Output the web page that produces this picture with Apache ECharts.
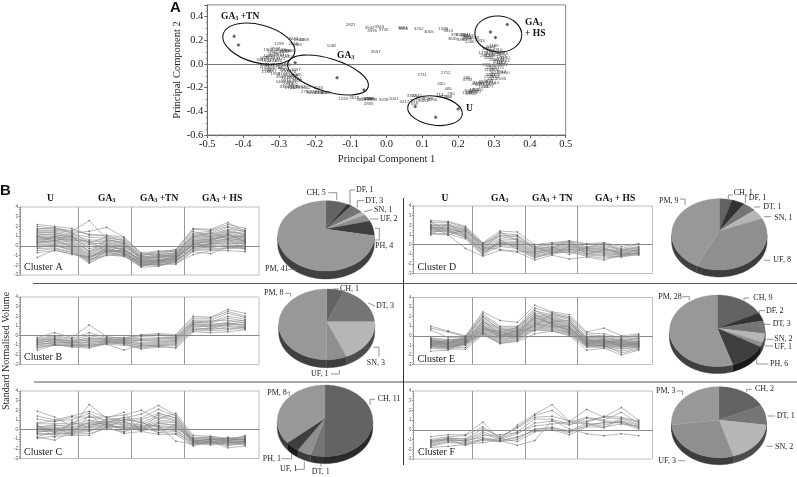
<!DOCTYPE html>
<html><head><meta charset="utf-8">
<script src="https://cdn.jsdelivr.net/npm/echarts@6/dist/echarts.min.js"></script>
<style>html,body{margin:0;padding:0;background:#fff}#c{width:797px;height:477px}</style></head>
<body><div id="c"></div>
<script>
// ---------- DATA ----------
// PCA loadings: [PC1, PC2, gene id]
const genes = [
[-.1,.33,2821],[-.047,.31,3542],[-.02,.315,3545],[-.04,.285,3376],[-.008,.29,3745],[.045,.31,3653],[.047,.295,3955],[.09,.3,3252],[.118,.275,3005],[.158,.295,1598],[.172,.285,3814],
[.19,.25,373],[.205,.245,1038],[.222,.25,2241],[.218,.235,1305],[.23,.24,2107],[.226,.225,3360],[.245,.225,1148],[.185,.21,3635],[.21,.205,3350],[.232,.185,1266],[.26,.2,3333],[.225,.21,2580],
[-.153,.15,1082],[-.03,.1,3557],[.1,-.09,2711],[.165,-.07,2712],[.225,-.115,595],[.226,-.13,3783],[.152,-.17,330],[.172,-.21,465],[.148,-.26,714],[.18,-.255,290],[.17,-.275,2148],[.16,-.28,3126],
[.07,-.27,3312],[.085,-.27,3845],[.095,-.285,1200],[.08,-.31,3319],[.105,-.31,3661],[.128,-.3,3250],[.115,-.295,2289],[.05,-.32,3217],[.02,-.29,1001],[-.008,-.305,3318],[-.12,-.295,1255],[-.09,-.285,3618],
[-.07,-.3,3825],[-.058,-.295,1346],[-.05,-.295,3299],[-.045,-.29,2286],[-.04,-.3,2859],[-.05,-.335,2835],[.078,-.34,559],
[-.26,.21,3043],[-.245,.205,2644],[-.23,.205,3468],[-.26,.17,2645],[-.25,.165,3443],[-.3,.17,1299],[-.33,.12,1302],[-.31,.13,3507],[-.295,.12,2558],[-.28,.115,1866],[-.27,.115,3306],[-.32,.105,1360],[-.3,.105,2241],[-.285,.1,3122],
[-.33,.07,1487],[-.315,.075,3019],[-.3,.08,2910],[-.285,.07,3419],[-.27,.06,1410],[-.34,.05,1655],[-.325,.05,3220],[-.31,.055,2231],[-.295,.045,1172],[-.35,.035,3381],[-.335,.03,1904],[-.32,.03,2274],[-.305,.03,1640],
[-.34,-.005,1023],[-.325,-.01,1118],[-.31,-.005,2255],[-.295,-.005,3041],[-.28,-.005,1490],[-.34,-.02,2077],[-.325,-.03,2460],[-.305,-.03,1732],[-.29,-.03,3811],[-.335,-.045,1523],[-.32,-.06,2987],[-.335,-.065,2136],[-.285,-.05,3202],
[-.253,-.05,3057],[-.28,-.06,2513],[-.265,-.065,1876],[-.25,-.09,2065],[-.31,-.08,1950],[-.29,-.085,3174],[-.275,-.09,1621],[-.26,-.1,2428],[-.295,-.11,3508],[-.28,-.115,1217],[-.265,-.12,2309],[-.25,-.125,1144],
[-.295,-.15,5418],[-.28,-.145,2712],[-.265,-.15,3301],[-.25,-.145,1098],[-.275,-.165,2844],[-.26,-.175,1462],[-.285,-.195,3390],[-.27,-.2,1731],[-.255,-.205,2023],[-.24,-.195,2662],[-.225,-.2,3352],[-.26,-.19,2105],
[-.225,-.235,2790],[-.21,-.24,3015],[-.2,-.235,1183],[-.19,-.245,2266],[-.18,-.24,1720],[-.17,-.24,3088],[-.19,-.2,1145],
[.28,.13,3984],[.29,.145,2044],[.3,.15,1186],[.29,.115,3325],[.31,.12,2310],[.27,.095,1473],[.285,.09,1811],[.3,.095,2675],[.315,.095,3016],[.325,.09,1544],
[.275,.07,2982],[.29,.07,1306],[.305,.075,2219],[.32,.065,1267],[.33,.05,3190],[.285,.05,1655],[.3,.04,2407],[.315,.04,3333],[.33,.03,1702],[.31,.02,2095],[.32,.01,1148],
[.31,-.01,2288],[.325,-.01,1937],[.295,-.015,471],[.28,-.01,3365],[.29,-.03,2250],[.3,-.045,1406],[.315,-.035,3771],[.285,-.05,1129],[.3,-.07,2612],[.32,-.065,3512],[.33,-.075,1850],
[.29,-.09,3052],[.305,-.09,2118],[.285,-.105,1777],[.3,-.11,2930],[.32,-.125,2535],[.295,-.125,1342],
[.255,-.16,3190],[.27,-.15,2208],[.285,-.145,1689],[.3,-.155,3144],[.26,-.175,1271],[.275,-.17,2854],[.29,-.17,3420],[.27,-.19,1058],[.285,-.19,2377],[.25,-.17,4112],
[.23,-.225,3086],[.245,-.215,1953],[.255,-.22,2620],[.225,-.245,1428],[.24,-.24,3271],[.25,-.235,1840],[.235,-.255,2716]
];
const starX = [-.425,-.413,-.138,-.063,.2,.137,.337,.29,.304,-.255,.08];
const starY = [.235,.16,-.115,-.22,-.38,-.45,.335,.27,.225,.01,-.36];

const clusterA = [
[2.2,2.0,1.8,1.1,1.1,.9,-.7,-.6,-.4,1.8,1.7,2.4,1.5],
[2.0,1.8,1.6,1.2,1.0,.7,-.8,-.8,-.5,1.7,1.6,2.2,1.8],
[1.8,1.7,1.5,2.6,.7,.3,-1.0,-.5,-.6,1.3,1.5,2.0,1.6],
[1.7,1.9,1.3,1.5,1.9,.9,-.9,-.9,-.7,1.2,1.3,1.9,1.4],
[1.5,1.5,1.2,.9,.8,.6,-1.1,-1.0,-.8,1.1,1.2,1.7,1.5],
[1.4,1.3,1.1,.6,.6,.4,-1.2,-1.1,-.9,1.0,1.1,1.6,1.2],
[1.3,1.4,.9,.4,.5,.2,-1.3,-1.2,-.8,.9,1.0,1.5,1.1],
[1.2,1.1,1.0,.2,.3,.1,-1.4,-1.0,-1.0,.8,.9,1.3,1.0],
[1.1,1.2,.8,.1,.4,-.1,-1.1,-1.3,-.9,.7,.8,1.2,.9],
[1.0,1.0,.7,-.1,.2,-.2,-1.5,-1.2,-1.1,.6,.7,1.1,.8],
[.9,.9,.9,-.3,.1,0,-1.3,-1.5,-1.0,.5,.6,1.0,.9],
[.9,.7,.6,-.5,0,-.3,-1.6,-1.4,-1.2,.5,.7,.9,.7],
[.8,.8,.5,-.6,-.1,-.4,-1.4,-1.6,-1.1,.4,.5,1.1,.6],
[.7,.6,.4,-.8,-.2,-.3,-1.7,-1.4,-1.3,.3,.4,.8,.5],
[.6,.9,.3,-.9,.1,-.5,-1.5,-1.7,-1.2,.2,.5,.7,.6],
[.5,.5,.2,-1.0,-.3,-.6,-1.8,-1.5,-1.4,.3,.3,.6,.4],
[.5,.4,.1,-1.1,-.4,-.5,-1.6,-1.8,-1.3,.1,.2,.5,.5],
[.4,.3,0,-1.2,-.5,-.7,-1.9,-1.6,-1.2,0,.1,.4,.3],
[.3,.6,-.1,-1.3,-.2,-.8,-1.7,-1.9,-1.5,-.1,.2,.3,.2],
[.2,.2,-.2,-1.4,-.6,-.6,-2.0,-1.7,-1.4,.2,0,.2,.3],
[.1,.1,-.3,-1.5,-.7,-.9,-1.8,-2.0,-1.6,-.2,-.2,.1,0],
[0,0,-.4,-1.6,-.5,-.8,-2.1,-1.8,-1.5,-.3,-.1,0,.1],
[-.2,.1,-.5,-1.7,-.8,-1.0,-2.2,-2.1,-1.6,-.4,-.3,-.2,-.1],
[-.3,-.2,-.6,-1.8,-.9,-1.1,-2.0,-1.9,-1.9,-.5,-.4,-.3,-.2],
[-.5,-.3,-.7,-1.4,-1.0,-.9,-1.9,-2.0,-1.7,-.6,-.8,-.1,-.3],
[-.7,-.5,-.8,-1.2,-.6,-1.0,-2.1,-1.6,-1.8,-.9,-.5,-.5,-.6],
[-1.2,-.4,-.9,-1.1,-.4,-.7,-1.7,-1.5,-1.5,-.2,.3,.7,-.4],
[1.6,1.6,1.4,.3,.9,.5,-1.0,-.7,-.4,1.5,.9,1.4,1.3],
[1.0,.5,1.1,-.7,.6,.2,-1.2,-.9,-.7,.9,1.4,.7,1.1],
[.3,1.0,.6,.5,-.6,-.4,-1.5,-1.1,-1.1,.1,.6,1.2,.4]];
const clusterB = [
[-.2,.3,-.2,1.1,-.1,-.3,.1,.2,.1,2.0,1.9,2.7,2.3],
[-.3,0,-.3,.3,-.2,-.2,0,.1,0,1.8,1.8,2.5,2.0],
[-.4,-.1,-.4,0,-.3,-.4,-.1,0,-.1,1.6,1.6,2.3,1.9],
[-.5,-.2,-.6,-.2,-.4,-.3,-.3,-.2,-.2,1.5,1.4,2.0,1.7],
[-.5,-.4,-.5,-.3,-.3,-.5,-.4,-.3,-.3,1.4,1.3,1.8,1.5],
[-.6,-.3,-.7,-.4,-.5,-.4,-.5,-.4,-.2,1.3,1.5,1.6,1.3],
[-.7,-.5,-.6,-.5,-.4,-.6,-.5,-.5,-.4,1.2,1.1,1.4,1.6],
[-.7,-.6,-.8,-.6,-.6,-.5,-.7,-.6,-.5,1.2,1.2,1.2,1.4],
[-.8,-.4,-.9,-.7,-.5,-.7,-.8,-.7,-.5,1.1,1.0,1.3,1.1],
[-.9,-.7,-.7,-.8,-.7,-.6,-.9,-.8,-.6,1.0,.9,1.1,1.2],
[-.9,-.8,-1.0,-.9,-.6,-.8,-1.0,-.9,-.7,.9,1.0,1.0,.9],
[-1.0,-.7,-.9,-1.0,-.8,-.7,-1.1,-1.0,-.8,.8,.7,1.2,1.0],
[-1.1,-.9,-1.1,-1.1,-.7,-.9,-1.2,-1.1,-.9,.7,.6,.9,.8],
[-1.2,-1.0,-1.0,-1.2,-.9,-1.0,-1.3,-1.0,-1.0,.6,.8,.7,.7],
[-1.3,-.9,-1.2,-1.3,-.8,-.8,-1.4,-1.2,-1.2,.5,.5,.6,.9],
[-1.5,-1.0,-1.1,-1.0,-.9,-1.5,-1.0,-1.1,-1.3,.4,.3,.4,.6]];
const clusterC = [
[1.9,1.3,.3,2.6,1.2,1.8,-.2,1.7,1.2,-1.2,-1.0,-1.2,-.6],
[1.4,1.0,1.4,1.9,1.3,1.5,2.0,1.1,1.7,-.6,-.7,-.9,-.8],
[1.1,.8,1.3,1.3,1.0,1.2,1.6,2.5,1.5,-.8,-.8,-1.0,-.7],
[.7,.9,1.0,1.7,.8,1.0,1.2,2.1,1.4,-.9,-.9,-1.1,-.9],
[.6,.6,.7,1.3,1.3,.9,1.0,1.7,1.2,-1.0,-1.0,-.9,-1.0],
[.3,.4,.5,1.0,.7,1.3,.7,1.5,1.0,-1.1,-1.1,-1.0,-1.1],
[.2,.5,.2,.7,.9,.7,.5,1.3,.9,-1.2,-1.0,-1.2,-1.0],
[.1,.1,.3,.5,.6,.8,.3,1.0,.8,-1.1,-1.2,-1.3,-1.2],
[0,.2,.1,.3,.5,.6,.2,.8,.7,-1.3,-1.3,-1.1,-1.1],
[-.1,-.1,0,.4,.8,.5,.1,.6,.5,-1.4,-1.2,-1.4,-1.3],
[-.2,-.2,-.1,.2,.4,.3,0,.4,.3,-1.2,-1.4,-1.2,-1.4],
[-.3,0,-.2,0,.3,.2,-.1,.2,.1,-1.5,-1.3,-1.5,-1.2],
[-.4,-.4,-.3,-.1,.2,.4,-.1,.1,-.1,-1.3,-1.5,-1.3,-1.5],
[-.5,-.5,-.4,-.2,.6,0,.1,-.1,-.2,-1.6,-1.4,-1.6,-1.3],
[-.7,-.3,-.5,-.4,.1,-.2,.3,-.3,-.4,-1.4,-1.6,-1.4,-1.6],
[-.9,-.7,-.6,-.6,.3,-.4,-.2,-.5,-.5,-1.7,-1.2,-1.9,-1.7],
[-.8,-1.1,-.2,.9,.5,.1,.4,.4,-1.2,-1.5,-1.1,-1.7,-1.4],
[.5,-.8,.8,.1,1.1,.9,-.1,.7,.4,-1.1,-1.3,-.8,-1.1],
[.1,.3,-.6,1.5,.2,1.1,.7,.3,.2,-1.0,-.7,-1.1,-1.0],
[.4,-.3,.6,.6,.7,-.3,.9,-.4,.6,-1.3,-.9,-1.3,-1.2]];
const clusterD = [
[2.5,2.4,1.9,.2,1.4,1.3,0,.2,.4,.1,.2,-.2,.1],
[2.3,2.3,1.8,.1,1.2,1.0,-.2,.1,.3,0,.1,-.4,0],
[2.1,2.1,1.7,0,1.0,.8,-.3,0,.2,-.2,-.1,-.5,-.2],
[2.0,1.9,1.6,-.1,.8,.6,-.4,-.2,.1,-.3,-.2,-.6,-.3],
[1.9,2.0,1.5,-.2,.6,.5,-.5,-.3,0,-.4,-.4,-.7,-.4],
[1.8,1.8,1.4,-.3,.4,.3,-.6,-.4,-.1,-.5,-.5,-.8,-.5],
[1.8,1.7,1.3,-.4,.2,.2,-.7,-.5,-.2,-.6,-.6,-.7,-.6],
[1.7,1.6,1.2,-.5,.1,.1,-.8,-.6,-.3,-.7,-.7,-.9,-.7],
[1.6,1.7,1.1,-.6,0,0,-.9,-.7,-.4,-.8,-.8,-1.0,-.6],
[1.6,1.5,1.0,-.7,.1,-.1,-1.0,-.6,-.5,-.6,-.9,-1.1,-.8],
[1.5,1.4,.9,-.8,-.1,-.2,-1.1,-.8,-.6,-.9,-1.0,-1.0,-.9],
[1.4,1.3,.8,-.9,.3,-.3,-1.2,-.9,-.5,-1.0,-1.1,-1.2,-.8],
[1.3,1.5,.7,-1.0,-.2,-.4,-1.3,-1.0,-.7,-1.1,-1.2,-1.3,-1.0],
[1.2,1.1,.6,-1.1,.5,-.5,-1.4,-.8,-.8,-1.2,-1.4,-1.2,-.9],
[1.1,1.0,-.4,-1.2,-.6,-.8,-1.6,-1.1,-1.5,-1.3,-1.6,-1.1,-1.1],
[2.4,1.2,1.4,.1,.9,.9,-.5,-.2,-1.0,-.3,.1,-.6,-.3],
[1.0,2.2,.9,-.6,1.3,.4,-.2,-.9,-.2,-.4,-.3,-1.0,-.5],
[1.9,1.0,1.6,-.3,-.5,-.7,-.8,-.4,.4,-1.0,-.5,-.9,-1.0]];
const clusterE = [
[1.0,.5,0,2.5,1.6,1.4,3.2,2.5,2.2,.4,.8,0,.2],
[.8,.4,-.1,2.3,1.0,1.0,2.9,2.4,2.0,.3,.2,-.2,.1],
[.6,-.2,-.2,2.1,.9,.9,2.6,2.2,1.9,.1,0,-.3,0],
[-.2,-.4,-.3,1.9,.7,.7,2.4,2.1,1.7,-.1,-.2,-.4,-.2],
[-.3,-.5,-.2,1.7,.5,.6,2.2,2.0,1.5,-.2,-.3,-.5,-.3],
[-.4,-.6,-.3,1.5,.4,.5,2.1,1.9,1.4,-.3,-.4,-.6,-.4],
[-.5,-.6,-.4,1.3,.3,.4,2.0,1.8,1.3,-.4,-.5,-.7,-.5],
[-.5,-.7,-.4,1.2,.2,.3,1.9,1.7,1.1,-.5,-.5,-.7,-.6],
[-.6,-.7,-.5,1.1,.1,.3,1.8,1.6,1.0,-.5,-.6,-.8,-.6],
[-.6,-.8,-.5,1.0,.1,.2,1.7,1.5,.9,-.6,-.6,-.8,-.7],
[-.7,-.8,-.6,.9,0,.2,1.6,1.4,.9,-.6,-.7,-.9,-.8],
[-.7,-.9,-.6,.8,0,.1,1.5,1.4,.8,-.7,-.7,-.9,-.8],
[-.8,-.9,-.6,.7,-.1,.1,1.4,1.3,.7,-.7,-.8,-.9,-.9],
[-.8,-1.0,-.7,.6,-.1,0,1.3,1.2,.6,-.8,-.8,-1.0,-.9],
[-.9,-1.0,-.7,.5,-.2,0,1.2,1.1,.6,-.8,-.9,-1.0,-1.0],
[-.9,-1.1,-.8,.4,-.3,-.1,1.1,1.0,.5,-.9,-.9,-1.1,-1.0],
[-1.0,-1.1,-.8,.4,-.4,-.1,1.0,.9,.4,-.9,-1.0,-1.1,-1.1],
[-1.0,-1.2,-.9,.3,-.5,-.2,.9,.8,.3,-1.0,-1.0,-1.2,-1.1],
[-1.1,-1.2,-.9,.3,-.6,-.3,.8,.7,.3,-1.0,-1.1,-1.3,-1.2],
[-1.1,-1.3,-1.0,.2,-.7,-.4,.7,.6,.2,-1.1,-1.1,-1.4,-1.2],
[-1.2,-1.3,-1.2,.2,-.8,-.5,.6,.5,.1,-1.2,-1.2,-1.6,-1.3],
[-1.3,-1.4,-1.4,.1,-.8,-.6,.2,.5,0,-1.5,-1.3,-2.0,-1.5],
[-.3,-.9,-.1,2.0,.6,.8,2.7,1.7,1.2,-.2,-.1,-.6,-.2],
[-.9,-.4,-.5,1.4,.8,.4,1.0,2.3,1.8,-.5,-.4,-.9,-.6],
[-.6,-1.2,-.7,.8,.3,.9,2.3,1.1,.7,-.3,-.8,-.5,-.9],
[-1.0,-.7,-.3,1.0,-.2,.7,.5,1.5,1.6,-.9,-.3,-1.2,-.7],
[-1.6,-1.5,-.6,.6,.5,-.2,1.3,.9,1.0,-1.1,-1.0,-1.8,-1.4],
[-.4,-1.0,-.9,1.6,.1,.5,1.9,1.3,.4,-.6,-.7,-.4,-1.1]];
const clusterF = [
[-.7,-.5,-.5,.8,-1.0,.5,1.6,2.6,.9,2.1,1.3,2.3,1.0],
[-1.0,-.7,-.6,.3,-.8,.3,1.5,2.0,.8,1.3,1.0,1.8,.7],
[-1.1,-.9,-.9,.1,-.7,.2,1.3,1.4,.9,.9,1.4,1.3,.9],
[-1.2,-.8,-1.0,-.2,-.9,-.2,1.1,1.1,.6,.8,1.3,1.1,.6],
[-1.3,-1.0,-1.1,-.4,-1.0,-.4,.7,.9,.5,1.2,.9,.9,.5],
[-1.4,-.9,-1.2,-.6,-.5,-.3,.4,.6,.8,.6,.7,.8,.3],
[-1.5,-1.1,-1.1,-.8,-1.1,-.8,0,.3,-.2,.5,.5,.9,.2],
[-1.6,-1.2,-1.3,-1.0,-1.2,-.7,-.1,.1,-.3,.4,.8,.7,.1],
[-1.7,-1.3,-1.4,-1.1,-.9,-1.2,-.2,0,-.5,.3,.3,.6,.4],
[-1.8,-1.7,-1.5,-1.3,-1.1,-1.6,-1.1,1.0,.1,-.4,-.6,-.4,-.6],
[-1.2,-1.0,-1.6,-.9,-1.2,-1.0,.1,.2,-.1,.7,.2,1.2,.8]];
const lineClusters = [clusterA, clusterB, clusterC, clusterD, clusterE, clusterF];
const clusterNames = ['Cluster A','Cluster B','Cluster C','Cluster D','Cluster E','Cluster F'];
const sampleX = [1,2,3,4,5,6,7,8,9,10,11,12,13];
const dividers = [3.37,6.44,9.48];
const yTicks = {min:-3,max:4,interval:1};

const pieCats = [
['CH','DF','DT','SN','UF','PH','PM'],
['CH','DT','SN','UF','PM'],
['CH','DT','UF','PH','PM'],
['CH','DF','DT','SN','UF','PM'],
['CH','DF','DT','SN','UF','PH','PM'],
['CH','DT','SN','UF','PM']];
const pieVals = [
[5,1,3,1,2,4,41],
[1,3,3,1,8],
[11,1,1,1,8],
[1,1,1,1,8,9],
[9,2,3,2,1,6,28],
[2,1,2,3,3]];
const catColor = {CH:'#636363',DF:'#333333',DT:'#757575',SN:'#b6b6b6',UF:'#8f8f8f',PH:'#3e3e3e',PM:'#989898'};

// ---------- LAYOUT (no data) ----------
const F = '"Liberation Serif","Times New Roman",serif';
const panels = [
 {l:20,t:207,h:68},{l:20,t:297,h:67.5},{l:20,t:391,h:67.5},
 {l:413.5,t:206,h:67.5},{l:413.5,t:297.5,h:67},{l:413.5,t:391,h:68}];
const panelW = 239;
const labelPos = [[24,267],[24,357],[24,452],[417.5,267],[417.5,359],[418,452]];
// pie: apex x,y, half width, up, down, depth
const pieGeom = [
 [326,229,48.3,28.3,42,8],[326.7,321.7,48,32.7,38,8],[325,418.3,47.7,33.3,38.3,7],
 [719.3,231,47.7,32.3,39,7],[717.3,328.3,47.8,33.3,38.3,7],[719,420,47.5,33.3,37.7,7]];
// per pie, per slice: text x, y, leader points
const pieLabelPos = [
 [[306.7,192.7,[[328.3,192.7],[336.7,192.7],[336.7,200]]],[356,190,[[355,190],[350,190],[350,205]]],[365.3,200.7,[[364,200.7],[357.3,200.7],[357.3,207.7]]],[374,209.7,[[372.7,209.7],[364,211.7]]],[380,219,[[378.3,219],[370,219]]],[375,245.7,[[375,228.3],[379.3,228.3],[379.3,240],[375,240]]],[265,269.3,[[288.3,269.3],[296.7,269.3]]]],
 [[340,289,[[332.7,289],[339,289]]],[376,306,[[368.3,303],[375,306]]],[366.7,362.7,[[373.3,347.3],[379,347.3],[379,356.7]]],[311,374,[[331,374],[339.3,374],[339.3,370]]],[264,293.3,[[285,293.3],[290.7,293.3],[290.7,296.7]]]],
 [[377.7,399.3,[[370,405],[370,399.3],[375,399.3]]],[311.7,471.7,[[321,466.7],[321,463.3]]],[280,469.3,[[296,469.3],[304.3,469.3],[304.3,461.7]]],[262.7,458.7,[[281.7,458.7],[291.7,458.7],[291.7,453.3]]],[267.3,393.3,[[286.7,393.3],[289.3,391.7],[289.3,396]]]],
 [[733.7,192.7,[[732.7,195],[728.3,195],[728.3,199]]],[748.7,198.3,[[747.3,195.7],[745.3,195.7],[745.3,203]]],[763.3,207,[[760,207],[754,207]]],[774.3,217.7,[[771,216.7],[764,216.7]]],[773.3,260.3,[[770,260.3],[764.3,260.3]]],[659,201,[[680,199],[685,199],[685,205]]]],
 [[753.3,298,[[744,300],[744,298],[749.3,298]]],[766,310.7,[[759.3,315],[759.3,310.7],[765,310.7]]],[772.7,324.3,[[764,324.3],[770.7,324.3]]],[774.3,339.3,[[766.7,339.3],[773.3,339.3]]],[774.3,346.7,[[765,346],[773.3,346]]],[770,364,[[756.7,357.7],[756.7,364],[768.3,364]]],[658.3,296.7,[[682.3,296.7],[689.3,296.7],[689.3,300]]]],
 [[755,389.3,[[746.7,391.7],[746.7,389.3],[751.7,389.3]]],[776.7,416,[[767.7,416],[775,416]]],[775,447,[[766.7,446.3],[772.7,446.3]]],[658.3,460.7,[[678.3,460.7],[685,460.7]]],[656,391,[[676.7,391],[682.7,391],[682.7,395]]]]];

// ---------- BUILD ----------
const grids=[{left:207.3,top:4.9,width:358.4,height:130.1,show:true,borderColor:'#888',borderWidth:1,backgroundColor:'#fff'}];
const xAxes=[{gridIndex:0,type:'value',min:-.5,max:.5,interval:.1,axisLine:{onZero:false,lineStyle:{color:'#666'}},axisTick:{length:3,lineStyle:{color:'#666'}},minorTick:{show:true,splitNumber:4,length:1.5,lineStyle:{color:'#888'}},splitLine:{show:false},
  axisLabel:{fontFamily:F,fontSize:10.5,color:'#222',margin:4,showMinLabel:true,showMaxLabel:true,formatter:v=>Math.abs(v)<1e-9?'0.0':v.toFixed(1)},
  name:'Principal Component 1',nameLocation:'middle',nameGap:18.5,nameTextStyle:{fontFamily:F,fontSize:10.5,color:'#222'}}];
const yAxes=[{gridIndex:0,type:'value',min:-.6,max:.5,interval:.2,axisLine:{onZero:false,lineStyle:{color:'#666'}},axisTick:{length:3,lineStyle:{color:'#666'}},minorTick:{show:true,splitNumber:4,length:1.5,lineStyle:{color:'#888'}},splitLine:{show:false},
  axisLabel:{fontFamily:F,fontSize:10.5,color:'#222',margin:4,formatter:v=>v>.45?'':(Math.abs(v)<1e-9?'0.0':v.toFixed(1))},
  name:'Principal Component 2',nameLocation:'middle',nameGap:24,nameTextStyle:{fontFamily:F,fontSize:10.5,color:'#222'}}];
const series=[
 {type:'scatter',xAxisIndex:0,yAxisIndex:0,data:genes,symbolSize:.5,itemStyle:{color:'#555'},z:3,silent:true,
  label:{show:true,position:'inside',formatter:p=>p.value[2],fontFamily:'"Liberation Sans",Arial,sans-serif',fontSize:4.4,color:'#111'},labelLayout:{hideOverlap:false},
  markLine:{silent:true,symbol:'none',label:{show:false},lineStyle:{color:'#777',width:1,type:'solid'},data:[{yAxis:0}]}},
 {type:'scatter',xAxisIndex:0,yAxisIndex:0,data:starX.map((x,i)=>[x,starY[i]]),symbol:'diamond',symbolSize:4,itemStyle:{color:'#444'},z:4,silent:true}
];
panels.forEach((p,i)=>{
 const g=i+1;
 grids.push({left:p.l,top:p.t,width:panelW,height:p.h,show:true,borderColor:'#bdbdbd',borderWidth:1});
 xAxes.push({gridIndex:g,type:'value',min:0,max:13.8,show:true,axisLine:{show:true,onZero:true,lineStyle:{color:'#8a8a8a',width:1}},axisTick:{show:false},axisLabel:{show:false},splitLine:{show:false}});
 yAxes.push({gridIndex:g,type:'value',min:yTicks.min,max:yTicks.max,interval:yTicks.interval,axisLine:{show:true,lineStyle:{color:'#999'}},axisTick:{length:1.5,lineStyle:{color:'#888'}},minorTick:{show:true,splitNumber:4,length:1,lineStyle:{color:'#999'}},splitLine:{show:false},axisLabel:{fontSize:4.5,color:'#555',margin:2,fontFamily:'"Liberation Sans",Arial,sans-serif'}});
 lineClusters[i].forEach((row,k)=>{
  const s={type:'line',xAxisIndex:g,yAxisIndex:g,data:row.map((v,j)=>[sampleX[j],v]),symbol:'rect',symbolSize:1.4,silent:true,
    lineStyle:{color:'#8a8a8a',width:.6},itemStyle:{color:'#666'},z:2};
  if(k===0) s.markLine={silent:true,symbol:'none',label:{show:false},lineStyle:{color:'#999',width:1,type:'solid'},data:dividers.map(d=>({xAxis:d}))};
  series.push(s);
 });
});
function rim(g,phi){
 const [cx,cy,rx,u,d]=g;
 const k=(d-u)/(d+u), B=2*u*d/(u+d), A=rx*Math.sqrt(1-k*k);
 const v=-Math.cos(phi), w=1-k*v;
 return [cx+A*Math.sin(phi)/w, cy+B*v/w];
}
function shade(hex,f){
 const n=parseInt(hex.slice(1),16);
 const c=[n>>16,(n>>8)&255,n&255].map(x=>Math.round(x*f));
 return `rgb(${c[0]},${c[1]},${c[2]})`;
}
pieVals.forEach((vals,pi)=>{
 const geom=pieGeom[pi];
 const total=vals.reduce((a,b)=>a+b,0);
 const cum=[0];vals.forEach(v=>cum.push(cum[cum.length-1]+v));
 series.push({type:'custom',coordinateSystem:'none',silent:true,z:3,data:vals,
  renderItem(params,api){
   const i=params.dataIndex;
   const a0=cum[i]/total*2*Math.PI,a1=cum[i+1]/total*2*Math.PI;
   const col=catColor[pieCats[pi][i]];
   const k=(geom[4]-geom[3])/(geom[4]+geom[3]);
   const lo=Math.acos(-k),hi=2*Math.PI-lo;
   const n=Math.max(3,Math.ceil((a1-a0)/.04));
   const pts=[[geom[0],geom[1]]];
   for(let j=0;j<=n;j++)pts.push(rim(geom,a0+(a1-a0)*j/n));
   const children=[];
   const s0=Math.max(a0,lo),s1=Math.min(a1,hi);
   if(s1>s0){
    const top=[],bot=[];
    const m=Math.max(2,Math.ceil((s1-s0)/.04));
    for(let j=0;j<=m;j++){const q=rim(geom,s0+(s1-s0)*j/m);top.push(q);bot.unshift([q[0],q[1]+geom[5]]);}
    const c=shade(col,.42);
    children.push({type:'polygon',shape:{points:top.concat(bot)},style:{fill:c,stroke:c,lineWidth:.4}});
   }
   children.push({type:'polygon',shape:{points:pts},style:{fill:col,stroke:col,lineWidth:.3}});
   return {type:'group',children};
  }});
});
// text + annotations
const sub=(t,size)=>({rich:{b:{fontFamily:F,fontSize:size,fontWeight:'bold',fill:'#111',color:'#111'},s:{fontFamily:F,fontSize:size*.65,fontWeight:'bold',fill:'#111',color:'#111',padding:[size*.4,0,0,0]}}});
function boldLabel(str,x,y,size){
 return {type:'text',x,y,z:20,silent:true,style:{text:str,font:`bold ${size}px ${F}`,fill:'#111',textVerticalAlign:'middle',textAlign:'left',...sub(str,size)}};
}
function plain(str,x,y,size,extra){
 return {type:'text',x,y,z:20,silent:true,style:{text:str,font:`${size}px ${F}`,fill:'#222',textVerticalAlign:'middle',textAlign:'left'},...(extra||{})};
}
function ell(cx,cy,rx,ry,deg){
 return {type:'ellipse',x:cx,y:cy,rotation:-deg*Math.PI/180,z:15,silent:true,shape:{cx:0,cy:0,rx,ry},style:{fill:null,stroke:'#111',lineWidth:1.1}};
}
function seg(p,col,w){
 return {type:'polyline',z:10,silent:true,shape:{points:p},style:{stroke:col||'#555',lineWidth:w||.8,fill:null}};
}
const ga='{b|GA}{s|3}';
const gfx=[
 ell(258.8,43.8,37,19,15),ell(328,75,42,16.5,17),ell(435,110.7,27.5,14.5,8),ell(498.3,34,23.5,18,5),
 boldLabel(ga+'{b| +TN}',221,17,9.5),boldLabel(ga,337,56,9.5),boldLabel(ga,525,23,9.5),boldLabel('{b|+ HS}',525,34,9.5),boldLabel('{b|U}',466,109,9.5),
 {type:'text',x:170,y:8,z:20,silent:true,style:{text:'A',font:'bold 15px "Liberation Sans",Arial,sans-serif',fill:'#111',textVerticalAlign:'middle'}},
 {type:'text',x:0,y:191,z:20,silent:true,style:{text:'B',font:'bold 15px "Liberation Sans",Arial,sans-serif',fill:'#111',textVerticalAlign:'middle'}},
 boldLabel('{b|U}',47,198.5,9.5),boldLabel(ga,98,198.5,9.5),boldLabel(ga+'{b| +TN}',140,198.5,9.5),boldLabel(ga+'{b| + HS}',202,198.5,9.5),
 boldLabel('{b|U}',441.5,199,9.5),boldLabel(ga,491,199,9.5),boldLabel(ga+'{b| + TN}',532,199,9.5),boldLabel(ga+'{b| + HS}',595,199,9.5),
 seg([[33,283.5],[403,283.5]],'#555',1),seg([[34,382],[403,382]],'#555',1),seg([[403,283.5],[797,283.5]],'#555',1),seg([[403,382],[797,382]],'#555',1),seg([[403.5,198],[403.5,465]],'#333',1),
 {type:'text',x:6,y:351,z:20,rotation:Math.PI/2,silent:true,style:{text:'Standard Normalised Volume',font:`10px ${F}`,fill:'#222',textAlign:'center',textVerticalAlign:'middle'}}
];
clusterNames.forEach((n,i)=>gfx.push(plain(n,labelPos[i][0],labelPos[i][1],10)));
pieCats.forEach((cats,pi)=>cats.forEach((c,i)=>{
 const [x,y,pts]=pieLabelPos[pi][i];
 gfx.push(plain(c+', '+pieVals[pi][i],x,y,8));
 gfx.push(seg(pts,'#666',.7));
}));

const chart=echarts.init(document.getElementById('c'),null,{renderer:'canvas'});
chart.setOption({animation:false,backgroundColor:'#fff',tooltip:{show:false},grid:grids,xAxis:xAxes,yAxis:yAxes,series,graphic:{elements:gfx}});
</script></body></html>
